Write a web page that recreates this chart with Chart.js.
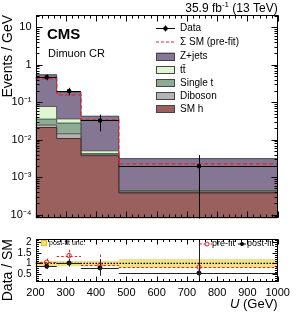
<!DOCTYPE html>
<html>
<head>
<meta charset="utf-8">
<script src="https://cdn.jsdelivr.net/npm/chart.js@4.4.1/dist/chart.umd.min.js"></script>
<style>
  html, body { margin: 0; padding: 0; background: #fff; }
  #wrap { position: relative; width: 299px; height: 322px; }
  #mainChart { position: absolute; left: 0; top: 0; }
  #ratioChart { position: absolute; left: 0; top: 229px; }
</style>
</head>
<body>
<div id="wrap">
  <canvas id="mainChart" width="299" height="229"></canvas>
  <canvas id="ratioChart" width="299" height="93"></canvas>
</div>
<script>
// bin edges in U (GeV)
const binEdges = [200, 270, 350, 475, 1000];

// post-fit background per bin (Events / GeV), stacked bottom to top
const smH     = [0.0212, 0.0108, 0.00375, 0.00038];
const diboson = [0.0035, 0.0036, 0.0002, 0.00001];
const singleT = [0.0107, 0.0134, 0.0003, 0.00002];
const ttbar   = [0.042, 0.0082, 0.00082, 0.00003];
const zJets   = [0.4636, 0.1516, 0.0373, 0.00269];

// sum of SM, pre-fit
const smPreFit = [0.418, 0.1567, 0.034, 0.00226];

// data points
const dataX = [237, 311, 413, 740];
const dataY = [0.463, 0.199, 0.0327, 0.00197];
const dataErrUp = [0.085, 0.044, 0.014, 0.0019];
const dataErrDown = [0.075, 0.046, 0.016, 0.00196];

// ratio panel
const preFitRatio = [1.06, 1.37, 0.92, 0.83];
const preFitErrUp = [0.17, 0.27, 0.5, 1.5];
const preFitErrDown = [0.15, 0.22, 0.45, 0.7];
const postFitRatio = [0.87, 1.02, 0.79, 0.55];
const postFitErrUp = [0.15, 0.19, 0.42, 1.6];
const postFitErrDown = [0.13, 0.17, 0.37, 0.5];
const bandLow = [0.87, 0.87, 0.87, 0.79];
const bandHigh = [1.12, 1.12, 1.12, 1.21];

// tick labels
const xTicks = [200, 300, 400, 500, 600, 700, 800, 900, 1000];
const yTickValues = [1e-4, 1e-3, 1e-2, 1e-1, 1, 10];
const yTickLabels = ['10⁻⁴', '10⁻³', '10⁻²', '10⁻¹', '1', '10'];
const ratioTicks = [0.5, 1, 1.5, 2];
const ratioTickLabels = ['0.5', '1', '1.5', '2'];

Chart.defaults.font.family = "'Liberation Sans', Arial, sans-serif";
Chart.defaults.color = '#000';

//turns bin values into points for a stepped line.
function steps(vals) {
    const pts = vals.map((v, i) => ({ x: binEdges[i], y: v }));
    pts.push({ x: binEdges[binEdges.length - 1], y: vals[vals.length - 1] });
    return pts;
}

//stack layers, bottom first.
const layers = [
    { label: 'SM h', vals: smH, color: '#9a605e', border: '#4a2e2e' },
    { label: 'Diboson', vals: diboson, color: '#b4b4b4', border: '#555555' },
    { label: 'Single t', vals: singleT, color: '#8eab94', border: '#3f5a45' },
    { label: 'tt\u0304', vals: ttbar, color: '#e2f5d2', border: '#555555' },
    { label: 'Z+jets', vals: zJets, color: '#857793', border: '#4a4058' }
];
let running = [0, 0, 0, 0];
layers.forEach(l => {
    running = running.map((r, i) => r + l.vals[i]);
    l.cum = running.slice();
});

//draws the frame with inward ticks on all four sides.
function axisFrame(cfg) {
    return {
        id: 'axisFrame',
        afterDraw(chart) {
            const { ctx, chartArea: a, scales } = chart;
            const sx = scales.x, sy = scales.y;
            const L = Math.round(a.left) + 0.5, R = Math.round(a.right) - 0.5;
            const T = Math.round(a.top) + 0.5, B = Math.round(a.bottom) - 0.5;
            ctx.save();
            ctx.strokeStyle = '#000';
            ctx.lineWidth = 1;
            ctx.beginPath();
            const xt = (v, len) => {
                const p = Math.round(sx.getPixelForValue(v)) + 0.5;
                ctx.moveTo(p, B); ctx.lineTo(p, B - len);
                ctx.moveTo(p, T); ctx.lineTo(p, T + len);
            };
            const yt = (v, len) => {
                const p = Math.round(sy.getPixelForValue(v)) + 0.5;
                if (p < T || p > B) return;
                ctx.moveTo(L, p); ctx.lineTo(L + len, p);
                ctx.moveTo(R, p); ctx.lineTo(R - len, p);
            };
            for (let v = sx.min; v <= sx.max; v += 20) xt(v, cfg.xMinor);
            xTicks.forEach(v => xt(v, cfg.xMajor));
            cfg.yMinors.forEach(v => yt(v, cfg.yMinor));
            cfg.yMajors.forEach(v => yt(v, cfg.yMajor));
            ctx.stroke();
            ctx.strokeRect(L, T, R - L, B - T);
            ctx.restore();
        }
    };
}

//draws vertical and horizontal error bars through the scales.
function errorBars(specs) {
    return {
        id: 'errorBars',
        afterDatasetsDraw(chart) {
            const { ctx, chartArea: a, scales } = chart;
            ctx.save();
            ctx.beginPath();
            ctx.rect(a.left, a.top, a.right - a.left, a.bottom - a.top);
            ctx.clip();
            specs.forEach(s => {
                ctx.strokeStyle = s.color;
                ctx.lineWidth = 1;
                ctx.setLineDash(s.dash || []);
                s.y.forEach((y, i) => {
                    const px = Math.round(scales.x.getPixelForValue(s.x[i])) + 0.5;
                    const py = Math.round(scales.y.getPixelForValue(y)) + 0.5;
                    const lo = Math.max(y - s.down[i], scales.y.min * 0.5);
                    ctx.beginPath();
                    ctx.moveTo(px, scales.y.getPixelForValue(y + s.up[i]));
                    ctx.lineTo(px, scales.y.getPixelForValue(lo));
                    ctx.moveTo(scales.x.getPixelForValue(binEdges[i]), py);
                    ctx.lineTo(scales.x.getPixelForValue(binEdges[i + 1]), py);
                    ctx.stroke();
                });
            });
            ctx.restore();
        }
    };
}

//texts and legend of the upper panel.
const mainLabels = {
    id: 'mainLabels',
    afterDraw(chart) {
        const ctx = chart.ctx;
        ctx.save();
        ctx.fillStyle = '#000';
        ctx.textBaseline = 'alphabetic';
        ctx.font = "bold 15px 'Liberation Sans', Arial, sans-serif";
        ctx.fillText('CMS', 47, 39);
        ctx.font = "11px 'Liberation Sans', Arial, sans-serif";
        ctx.fillText('Dimuon CR', 48, 57);

        // luminosity label, right aligned
        const f1 = "12px 'Liberation Sans', Arial, sans-serif";
        const f2 = "8px 'Liberation Sans', Arial, sans-serif";
        const right = chart.chartArea.right;
        ctx.font = f1;
        const wTail = ctx.measureText(' (13 TeV)').width;
        const wHead = ctx.measureText('35.9 fb').width;
        ctx.font = f2;
        const wSup = ctx.measureText('-1').width;
        let x = right - wTail - wSup - wHead;
        ctx.font = f1;
        ctx.fillText('35.9 fb', x, 12);
        ctx.font = f2;
        ctx.fillText('-1', x + wHead, 7);
        ctx.font = f1;
        ctx.fillText(' (13 TeV)', x + wHead + wSup, 12);

        // legend
        const bx = 156, bw = 19, tx = 180;
        const rows = [28.5, 42, 56.5, 70, 83, 96, 109];
        ctx.font = "10px 'Liberation Sans', Arial, sans-serif";
        ctx.textBaseline = 'middle';
        ctx.strokeStyle = '#000';
        ctx.lineWidth = 1;
        ctx.beginPath();
        ctx.moveTo(bx, rows[0]); ctx.lineTo(bx + bw, rows[0]);
        ctx.moveTo(bx + bw / 2, rows[0] - 3); ctx.lineTo(bx + bw / 2, rows[0] + 3);
        ctx.stroke();
        ctx.beginPath();
        ctx.arc(bx + bw / 2, rows[0], 2.3, 0, Math.PI * 2);
        ctx.fill();
        ctx.fillText('Data', tx, rows[0]);
        ctx.strokeStyle = '#e8202a';
        ctx.setLineDash([3, 2]);
        ctx.beginPath();
        ctx.moveTo(bx, rows[1]); ctx.lineTo(bx + bw, rows[1]);
        ctx.stroke();
        ctx.setLineDash([]);
        ctx.fillText('\u03A3 SM (pre-fit)', tx, rows[1]);
        layers.slice().reverse().forEach((l, i) => {
            const y = rows[i + 2];
            ctx.fillStyle = l.color;
            ctx.fillRect(bx, y - 4, bw, 8);
            ctx.strokeStyle = '#444';
            ctx.strokeRect(bx + 0.5, Math.round(y - 4) + 0.5, bw - 1, 7);
            ctx.fillStyle = '#000';
            ctx.fillText(l.label, tx, y);
        });
        ctx.restore();
    }
};

const yMinorsLog = [];
[1e-5, 1e-4, 1e-3, 1e-2, 1e-1, 1, 10].forEach(d => {
    for (let m = 2; m <= 9; m++) yMinorsLog.push(d * m);
});

new Chart('mainChart', {
    type: 'line',
    data: {
        datasets: [
            {
                label: 'Data',
                data: dataX.map((x, i) => ({ x: x, y: dataY[i] })),
                showLine: false,
                pointRadius: 2.3,
                pointBackgroundColor: '#000',
                pointBorderColor: '#000',
                pointBorderWidth: 0
            },
            {
                label: 'SM pre-fit',
                data: steps(smPreFit),
                stepped: 'before',
                borderColor: '#e8202a',
                borderWidth: 1.3,
                borderDash: [4, 2.5],
                pointRadius: 0,
                fill: false
            },
            ...layers.map(l => ({
                label: l.label,
                data: steps(l.cum),
                stepped: 'before',
                borderColor: l.border,
                borderWidth: 1,
                backgroundColor: l.color,
                pointRadius: 0,
                fill: 'start'
            }))
        ]
    },
    options: {
        responsive: false,
        animation: false,
        devicePixelRatio: 1,
        layout: { padding: { top: 15, right: 21.3, bottom: 5.7, left: 0 } },
        plugins: { legend: { display: false }, tooltip: { enabled: false } },
        scales: {
            x: {
                type: 'linear', min: 200, max: 1000,
                ticks: { display: false },
                grid: { display: false, drawTicks: false },
                border: { display: false },
                afterFit(s) { s.height = 0; }
            },
            y: {
                type: 'logarithmic', min: 7.95e-5, max: 21.3,
                afterBuildTicks(s) { s.ticks = yTickValues.map(v => ({ value: v })); },
                ticks: {
                    autoSkip: false, padding: 4,
                    font: { size: 11 },
                    callback: (v, i) => yTickLabels[i]
                },
                grid: { display: false, drawTicks: false },
                border: { display: false },
                title: {
                    display: true, text: 'Events / GeV', align: 'end',
                    font: { size: 14 }, padding: { top: 0, bottom: 0 }
                },
                afterFit(s) { s.width = 35.5; }
            }
        }
    },
    plugins: [
        axisFrame({ xMajor: 6, xMinor: 3, yMajor: 6, yMinor: 3, yMajors: yTickValues, yMinors: yMinorsLog }),
        errorBars([{ x: dataX, y: dataY, up: dataErrUp, down: dataErrDown, color: '#000' }]),
        mainLabels
    ]
});

//texts and legend of the ratio panel.
const ratioLabels = {
    id: 'ratioLabels',
    afterDraw(chart) {
        const ctx = chart.ctx;
        ctx.save();
        ctx.textBaseline = 'middle';
        // post-fit uncertainty
        ctx.fillStyle = '#f0e28a';
        ctx.fillRect(41, 11, 6, 6);
        ctx.strokeStyle = '#f5c400';
        ctx.strokeRect(41.5, 11.5, 5, 5);
        ctx.fillStyle = '#000';
        ctx.font = "7px 'Liberation Sans', Arial, sans-serif";
        ctx.fillText('post-fit unc.', 49, 14);
        // pre-fit
        ctx.font = "9px 'Liberation Sans', Arial, sans-serif";
        ctx.strokeStyle = '#e8202a';
        ctx.setLineDash([2, 1.5]);
        ctx.beginPath();
        ctx.moveTo(200, 15); ctx.lineTo(212, 15);
        ctx.stroke();
        ctx.setLineDash([]);
        ctx.fillStyle = '#fff';
        ctx.beginPath();
        ctx.arc(207, 15, 2, 0, Math.PI * 2);
        ctx.fill();
        ctx.stroke();
        ctx.fillStyle = '#000';
        ctx.fillText('pre-fit', 212, 15);
        // post-fit
        ctx.strokeStyle = '#000';
        ctx.beginPath();
        ctx.moveTo(238, 15); ctx.lineTo(246, 15);
        ctx.stroke();
        ctx.beginPath();
        ctx.arc(242, 15, 2, 0, Math.PI * 2);
        ctx.fill();
        ctx.fillText('post-fit', 247, 15);
        // x axis title
        const right = chart.chartArea.right;
        ctx.textBaseline = 'alphabetic';
        ctx.font = "13px 'Liberation Sans', Arial, sans-serif";
        const wTail = ctx.measureText(' (GeV)').width;
        ctx.fillText(' (GeV)', right - wTail, 79);
        ctx.font = "italic 13px 'Liberation Sans', Arial, sans-serif";
        const wU = ctx.measureText('U').width;
        ctx.fillText('U', right - wTail - wU, 79);
        ctx.restore();
    }
};

const ratioMinors = [];
for (let v = 0.2; v < 2.15; v += 0.1) ratioMinors.push(Math.round(v * 10) / 10);

new Chart('ratioChart', {
    type: 'line',
    data: {
        datasets: [
            {
                label: 'post-fit',
                data: dataX.map((x, i) => ({ x: x, y: postFitRatio[i] })),
                showLine: false,
                pointRadius: 2,
                pointBackgroundColor: '#000',
                pointBorderColor: '#000'
            },
            {
                label: 'pre-fit',
                data: dataX.map((x, i) => ({ x: x, y: preFitRatio[i] })),
                showLine: false,
                pointRadius: 2.2,
                pointBackgroundColor: 'rgba(255,255,255,0)',
                pointBorderColor: '#e8202a',
                pointBorderWidth: 1
            },
            {
                label: 'one',
                data: [{ x: 200, y: 1 }, { x: 1000, y: 1 }],
                borderColor: '#000',
                borderWidth: 1.3,
                borderDash: [1.5, 1.5],
                pointRadius: 0,
                fill: false
            },
            {
                label: 'band high',
                data: steps(bandHigh),
                stepped: 'before',
                borderWidth: 0,
                borderColor: 'rgba(0,0,0,0)',
                backgroundColor: '#f0e28a',
                pointRadius: 0,
                fill: '+1'
            },
            {
                label: 'band low',
                data: steps(bandLow),
                stepped: 'before',
                borderWidth: 0,
                borderColor: 'rgba(0,0,0,0)',
                pointRadius: 0,
                fill: false
            }
        ]
    },
    options: {
        responsive: false,
        animation: false,
        devicePixelRatio: 1,
        layout: { padding: { top: 5, right: 21.3, bottom: 0, left: 0 } },
        plugins: { legend: { display: false }, tooltip: { enabled: false } },
        scales: {
            x: {
                type: 'linear', min: 200, max: 1000,
                afterBuildTicks(s) { s.ticks = xTicks.map(v => ({ value: v })); },
                ticks: {
                    autoSkip: false, maxRotation: 0, padding: 5,
                    font: { size: 11 },
                    callback: (v, i) => String(xTicks[i])
                },
                grid: { display: false, drawTicks: false },
                border: { display: false },
                afterFit(s) { s.height = 40.5; }
            },
            y: {
                type: 'linear', min: 0.15, max: 2.15,
                afterBuildTicks(s) { s.ticks = ratioTicks.map(v => ({ value: v })); },
                ticks: {
                    autoSkip: false, padding: 4,
                    font: { size: 10 },
                    callback: (v, i) => ratioTickLabels[i]
                },
                grid: { display: false, drawTicks: false },
                border: { display: false },
                title: {
                    display: true, text: 'Data / SM', align: 'end',
                    font: { size: 14 }, padding: { top: 0, bottom: 0 }
                },
                afterFit(s) { s.width = 35.5; }
            }
        }
    },
    plugins: [
        axisFrame({ xMajor: 5, xMinor: 2.5, yMajor: 5, yMinor: 2.5, yMajors: ratioTicks, yMinors: ratioMinors }),
        errorBars([
            { x: dataX, y: preFitRatio, up: preFitErrUp, down: preFitErrDown, color: '#e8202a', dash: [2.5, 2] },
            { x: dataX, y: postFitRatio, up: postFitErrUp, down: postFitErrDown, color: '#222' }
        ]),
        ratioLabels
    ]
});
</script>
</body>
</html>
